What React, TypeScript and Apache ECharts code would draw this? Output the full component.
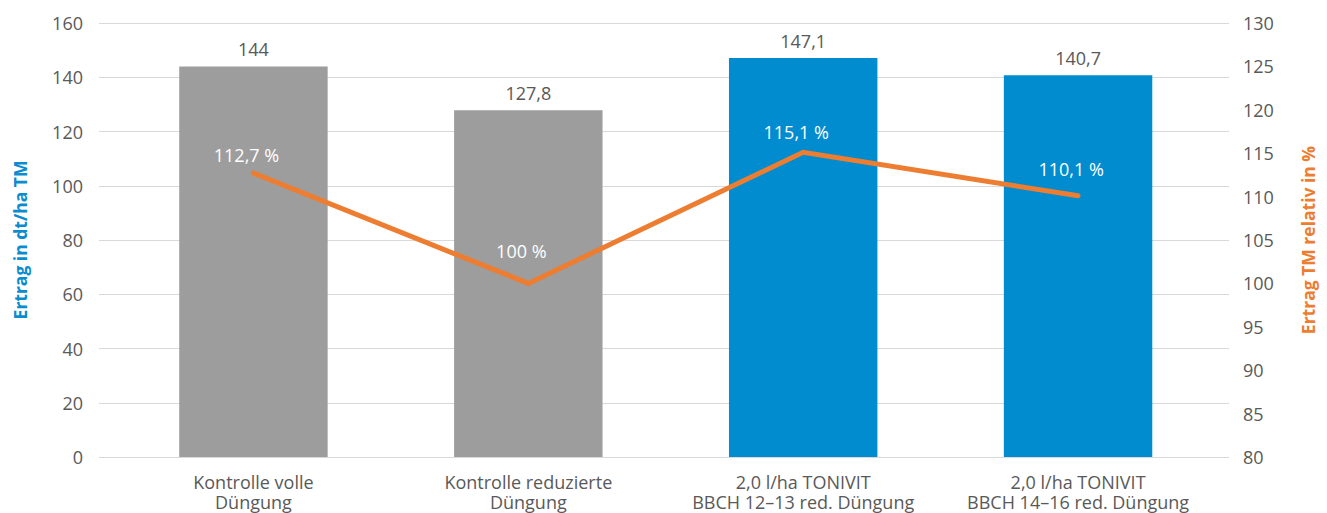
import React, { useEffect, useRef } from "react";
import * as echarts from "echarts";

const categories = [
  "Kontrolle volle\nDüngung",
  "Kontrolle reduzierte\nDüngung",
  "2,0 l/ha TONIVIT\nBBCH 12–13 red. Düngung",
  "2,0 l/ha TONIVIT\nBBCH 14–16 red. Düngung",
];
const yieldValues = [144, 127.8, 147.1, 140.7];
const relativeValues = [112.7, 100, 115.1, 110.1];
const barColors = ["#9d9d9d", "#9d9d9d", "#008ccf", "#008ccf"];
const lineLabelDistances = [9, 23, 11, 17];

const FONT = "'Open Sans', 'Noto Sans', sans-serif";
const TEXT = "#595959";

const fmt = (v: number) => String(v).replace(".", ",");

export default function App() {
  const ref = useRef<HTMLDivElement>(null);
  useEffect(() => {
    if (!ref.current) return;
    const chart = echarts.init(ref.current, undefined, { renderer: "svg" });
    const option: any = {
      animation: false,
      textStyle: { fontFamily: FONT },
      grid: [
        { left: 99, right: 98, top: 23, bottom: 56 },
        { left: 116, right: 111.5, top: 23, bottom: 56 },
      ],
      xAxis: [
        { type: "category", gridIndex: 0, data: categories, show: false },
        {
          type: "category",
          gridIndex: 1,
          data: categories,
          axisLine: { show: false },
          axisTick: { show: false },
          axisLabel: {
            color: TEXT,
            fontSize: 18,
            fontFamily: FONT,
            lineHeight: 20,
            margin: 15,
            interval: 0,
          },
        },
      ],
      yAxis: [
        {
          type: "value",
          gridIndex: 0,
          min: 0,
          max: 160,
          interval: 20,
          position: "left",
          name: "Ertrag in dt/ha TM",
          nameLocation: "middle",
          nameRotate: 90,
          nameGap: 70,
          nameTextStyle: { color: "#0a8ccf", fontWeight: "bold", fontSize: 17.5, fontFamily: FONT },
          axisLine: { show: false },
          axisTick: { show: false },
          axisLabel: { color: TEXT, fontSize: 18, fontFamily: FONT, margin: 16 },
          splitLine: { show: true, lineStyle: { color: "#d9d9d9", width: 1 } },
        },
        {
          type: "value",
          gridIndex: 0,
          min: 80,
          max: 130,
          interval: 5,
          position: "right",
          name: "Ertrag TM relativ in %",
          nameLocation: "middle",
          nameRotate: 90,
          nameGap: 70,
          nameTextStyle: { color: "#ed7d31", fontWeight: "bold", fontSize: 17.5, fontFamily: FONT },
          axisLine: { show: false },
          axisTick: { show: false },
          axisLabel: { color: TEXT, fontSize: 18, fontFamily: FONT, margin: 14 },
          splitLine: { show: false },
        },
        { type: "value", gridIndex: 1, min: 0, max: 160, interval: 20, show: false },
        { type: "value", gridIndex: 1, min: 80, max: 130, interval: 5, show: false, position: "right" },
      ],
      series: [
        {
          type: "bar",
          xAxisIndex: 1,
          yAxisIndex: 2,
          barWidth: "54%",
          data: yieldValues.map((v, i) => ({ value: v, itemStyle: { color: barColors[i] } })),
          label: {
            show: true,
            position: "top",
            distance: 8,
            color: TEXT,
            fontSize: 18,
            fontFamily: FONT,
            formatter: (p: any) => fmt(p.value),
          },
          z: 2,
        },
        {
          type: "line",
          xAxisIndex: 1,
          yAxisIndex: 3,
          data: relativeValues.map((v, i) => ({
            value: v,
            label: { show: true, distance: lineLabelDistances[i] },
          })),
          symbol: "circle",
          symbolSize: 1,
          showSymbol: true,
          lineStyle: { color: "#ed7d31", width: 5, cap: "round", join: "miter" },
          itemStyle: { color: "#ed7d31" },
          label: {
            show: true,
            position: "top",
            color: "#ffffff",
            fontSize: 18,
            fontFamily: FONT,
            offset: [-7, 0],
            formatter: (p: any) => fmt(p.value) + " %",
          },
          z: 3,
        },
      ],
    };
    chart.setOption(option);
    return () => chart.dispose();
  }, []);
  return (
    <div
      ref={ref}
      style={{ position: "absolute", left: 0, top: 0, width: 1327, height: 513, background: "#ffffff" }}
    />
  );
}
